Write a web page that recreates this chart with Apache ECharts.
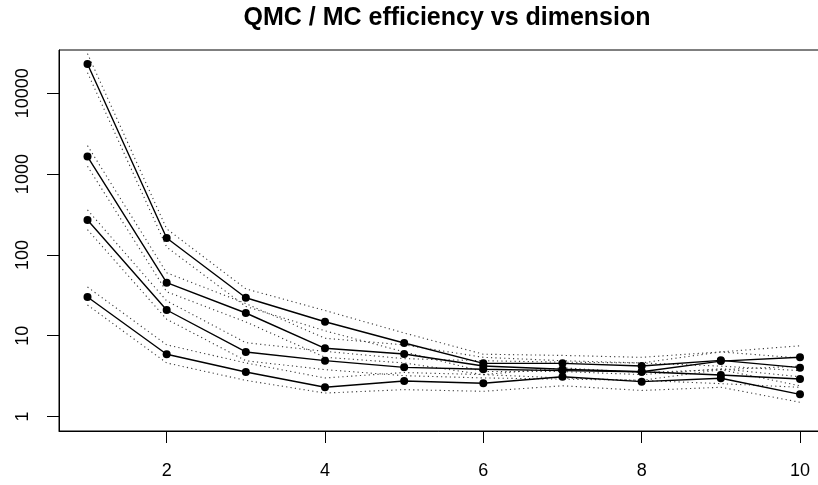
<!DOCTYPE html>
<html>
<head>
<meta charset="utf-8">
<script src="https://cdn.jsdelivr.net/npm/echarts@6/dist/echarts.min.js"></script>
<style>html,body{margin:0;padding:0;background:#fff}#c{width:818px;height:485px}</style>
</head>
<body>
<div id="c"></div>
<script>
const dims = [1, 2, 3, 4, 5, 6, 7, 8, 9, 10];
const xTicks = [2, 4, 6, 8, 10];
const yTicks = [1, 10, 100, 1000, 10000];

const effA = [23000, 162, 29.5, 14.9, 8.12, 4.55, 4.55, 4.22, 4.95, 4.02];
const effB = [1650, 45.3, 19.1, 6.98, 5.94, 4.22, 3.84, 3.58, 4.85, 5.40];
const effC = [270, 20.8, 6.29, 4.91, 4.06, 3.84, 3.70, 3.58, 3.26, 2.91];
const effD = [30.1, 5.89, 3.55, 2.30, 2.75, 2.58, 3.11, 2.70, 2.97, 1.88];

const upA = [31000, 210, 38, 20.5, 10.8, 5.9, 5.7, 5.4, 6.3, 5.3];
const loA = [18000, 125, 23, 11.5, 6.3, 3.6, 3.6, 3.3, 3.9, 3.1];
const upB = [2250, 60, 25, 9.3, 7.7, 5.4, 4.9, 4.6, 6.3, 7.5];
const loB = [1250, 35, 14.8, 5.4, 4.6, 3.3, 3.0, 2.8, 3.8, 4.2];
const upC = [360, 27, 8.2, 6.4, 5.2, 4.9, 4.7, 4.6, 4.2, 3.7];
const loC = [205, 16, 4.9, 3.8, 3.2, 3.0, 2.9, 2.8, 2.55, 2.3];
const upD = [40, 7.7, 4.6, 3.0, 3.5, 3.3, 4.0, 3.5, 3.8, 2.4];
const loD = [24, 4.6, 2.8, 1.95, 2.15, 2.05, 2.4, 2.1, 2.3, 1.5];

const FONT = 'Liberation Sans, Arial, Helvetica, sans-serif';
const pairs = arr => dims.map((d, i) => [d, arr[i]]);

const mains = [effA, effB, effC, effD];
const bounds = [upA, loA, upB, loB, upC, loC, upD, loD];

const series = [];
bounds.forEach(b => series.push({
  type: 'line', data: pairs(b), symbol: 'none', silent: true,
  lineStyle: { color: '#3a3a3a', width: 1.1, type: [1.2, 3.2] }, z: 2
}));
mains.forEach(m => series.push({
  type: 'line', data: pairs(m), symbol: 'circle', symbolSize: 8,
  itemStyle: { color: '#000' }, lineStyle: { color: '#000', width: 1.4 }, z: 3
}));

const chart = echarts.init(document.getElementById('c'), null, { renderer: 'canvas' });
chart.setOption({
  animation: false,
  backgroundColor: '#fff',
  title: {
    text: 'QMC / MC efficiency vs dimension', left: 442, top: 1, textAlign: 'center',
    textStyle: { fontFamily: FONT, fontWeight: 'bold', fontSize: 25, color: '#000' }
  },
  grid: { left: 59, top: 50, bottom: 54, width: 769.5, outerBoundsMode: 'none', containLabel: false,
    show: true, borderColor: '#000', borderWidth: 1, backgroundColor: 'transparent' },
  xAxis: {
    type: 'value', min: 0.64, max: 10.36,
    axisLine: { show: true, lineStyle: { color: '#000', width: 1 } },
    axisTick: { show: true, length: 12, customValues: xTicks, lineStyle: { color: '#000' } },
    axisLabel: { customValues: xTicks, margin: 31, fontFamily: FONT, fontSize: 18, color: '#000' },
    splitLine: { show: false }
  },
  yAxis: {
    type: 'log', logBase: 10, min: Math.pow(10, -0.1795), max: Math.pow(10, 4.536),
    axisLine: { show: true, lineStyle: { color: '#000', width: 1 } },
    axisTick: { show: true, length: 12, customValues: yTicks, lineStyle: { color: '#000' } },
    axisLabel: { customValues: yTicks, rotate: 90, margin: 27, fontFamily: FONT, fontSize: 18, color: '#000',
      formatter: v => String(Math.round(v)) },
    splitLine: { show: false }
  },
  series: series
});
</script>
</body>
</html>
